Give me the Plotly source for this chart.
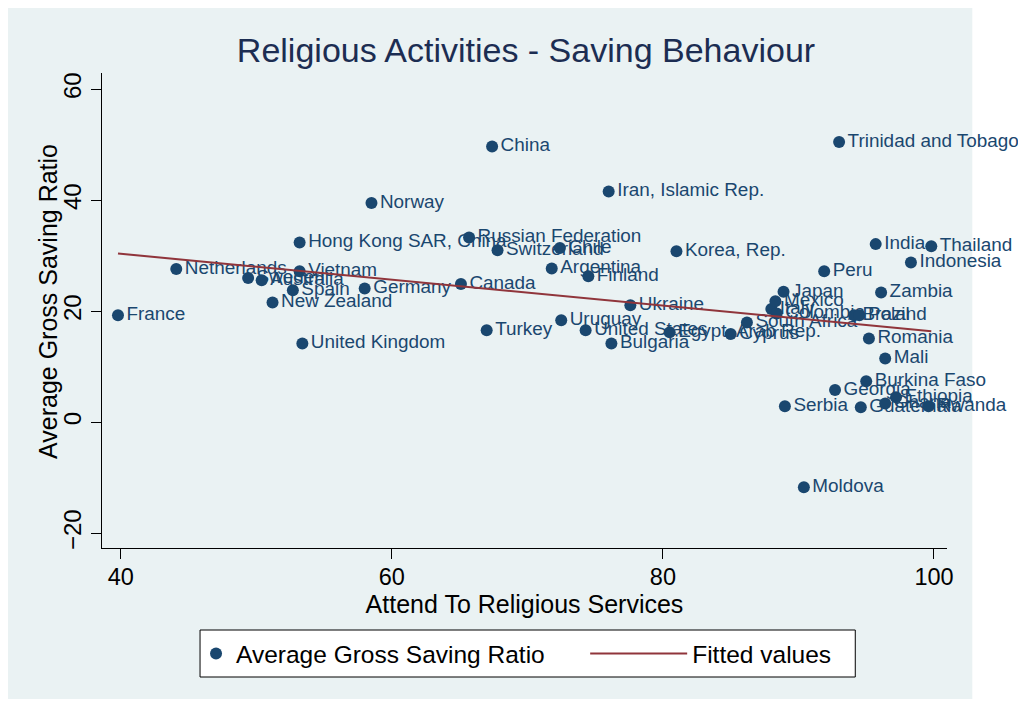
import numpy as np
import plotly.graph_objects as go

countries = ["France", "Netherlands", "Sweden", "Australia", "New Zealand", "Spain", "Vietnam",
             "Hong Kong SAR, China", "United Kingdom", "Germany", "Norway", "Canada",
             "Russian Federation", "Turkey", "China", "Switzerland", "Argentina", "Chile",
             "Uruguay", "United States", "Finland", "Iran, Islamic Rep.", "Bulgaria", "Ukraine",
             "Egypt, Arab Rep.", "Korea, Rep.", "Cyprus", "South Africa", "Italy", "Colombia",
             "Mexico", "Serbia", "Japan", "Moldova", "Peru", "Georgia", "Trinidad and Tobago",
             "Brazil", "Poland", "Guatemala", "Burkina Faso", "Romania", "India", "Zambia",
             "Ghana", "Mali", "Ethiopia", "Indonesia", "Rwanda", "Thailand"]
attend = [39.8, 44.1, 49.4, 50.4, 51.2, 52.7, 53.2, 53.2, 53.4, 58.0, 58.5, 65.1,
          65.7, 67.0, 67.4, 67.8, 71.8, 72.4, 72.5, 74.3, 74.5, 76.0, 76.2, 77.6,
          80.5, 81.0, 85.0, 86.2, 88.0, 88.4, 88.3, 89.0, 88.9, 90.4, 91.9, 92.7, 93.0,
          94.1, 94.5, 94.6, 95.0, 95.2, 95.7, 96.1, 96.4, 96.4, 97.2, 98.3, 99.6, 99.8]
saving = [19.3, 27.6, 26.0, 25.6, 21.6, 23.8, 27.2, 32.4, 14.2, 24.1, 39.5, 24.9,
          33.3, 16.6, 49.7, 31.0, 27.7, 31.4, 18.4, 16.6, 26.3, 41.6, 14.2, 21.1,
          16.2, 30.8, 15.9, 18.0, 20.4, 19.6, 21.8, 2.9, 23.5, -11.7, 27.2, 5.8, 50.5,
          19.3, 19.3, 2.7, 7.4, 15.1, 32.1, 23.4, 3.4, 11.5, 4.5, 28.8, 2.9, 31.7]

x_ticks = [40, 60, 80, 100]
y_ticks = [-20, 0, 20, 40, 60]

NAVY = "#1a476f"
MAROON = "#90353b"
BG = "#eaf2f3"
FONT = "Liberation Sans, Arial, sans-serif"

# page body has an 8px margin; work in figure pixel coordinates
W, H = 1018, 691
L, R, T, B = 94, 938.7, 65, 540
PW, PH = R - L, B - T


def px(xp):
    return (xp - L) / PW


def py(yp):
    return (B - yp) / PH


xa = np.array(attend)
ya = np.array(saving)
b, a = np.polyfit(xa, ya, 1)
xfit = np.array([xa.min(), xa.max()])
yfit = a + b * xfit

fig = go.Figure()
fig.add_trace(go.Scatter(
    x=attend, y=saving, mode="markers+text", text=countries,
    textposition="middle right", cliponaxis=False,
    textfont=dict(family=FONT, size=18.9, color=NAVY),
    marker=dict(size=12, color=NAVY),
    name="Average Gross Saving Ratio", legend="legend"))
fig.add_trace(go.Scatter(
    x=xfit, y=yfit, mode="lines", line=dict(color=MAROON, width=2),
    name="Fitted values", legend="legend2"))

# graph region background
fig.add_shape(type="rect", xref="paper", yref="paper", layer="below",
              x0=px(-3), x1=px(964), y0=py(694), y1=py(-3),
              fillcolor=BG, line=dict(width=0))
# legend box
fig.add_shape(type="rect", xref="paper", yref="paper", layer="above",
              x0=px(192), x1=px(847), y0=py(669), y1=py(622),
              fillcolor="white", line=dict(color="black", width=1))

leg_common = dict(orientation="h", yanchor="middle", y=py(645.5), xanchor="left",
                  bgcolor="rgba(0,0,0,0)", borderwidth=0,
                  font=dict(family=FONT, size=24.5, color="black"))

fig.update_layout(
    width=W, height=H,
    paper_bgcolor="white", plot_bgcolor="white",
    margin=dict(l=L, r=W - R, t=T, b=H - B, autoexpand=False),
    font=dict(family=FONT, size=25, color="black"),
    title=dict(text="Religious Activities - Saving Behaviour", x=518 / W, xanchor="center",
               y=1 - 42 / H, yanchor="middle",
               font=dict(family=FONT, size=34, color="#1c2d52")),
    showlegend=True,
    legend=dict(x=px(188), itemwidth=30, **leg_common),
    legend2=dict(x=px(577), itemwidth=97, **leg_common),
    annotations=[dict(text="Average Gross Saving Ratio", xref="paper", yref="paper",
                      x=px(39.5), y=py(293.5), xanchor="center", yanchor="middle",
                      textangle=-90, showarrow=False,
                      font=dict(family=FONT, size=25, color="black"))],
)
fig.update_xaxes(range=[38.62, 100.96], tickvals=x_ticks, ticks="outside", ticklen=10,
                 tickcolor="black", showline=True, linecolor="black", linewidth=1,
                 showgrid=False, zeroline=False, tickfont=dict(size=23.5), automargin=False,
                 ticklabelstandoff=-2,
                 title=dict(text="Attend To Religious Services", standoff=0, font=dict(size=25)))
fig.update_yaxes(range=[-22.65, 62.93], tickvals=y_ticks, ticks="outside", ticklen=10,
                 tickcolor="black", showline=True, linecolor="black", linewidth=1,
                 showgrid=True, gridcolor=BG, gridwidth=2, zeroline=False,
                 tickangle=-90, tickfont=dict(size=24), automargin=False)

fig.write_html("out.html")
